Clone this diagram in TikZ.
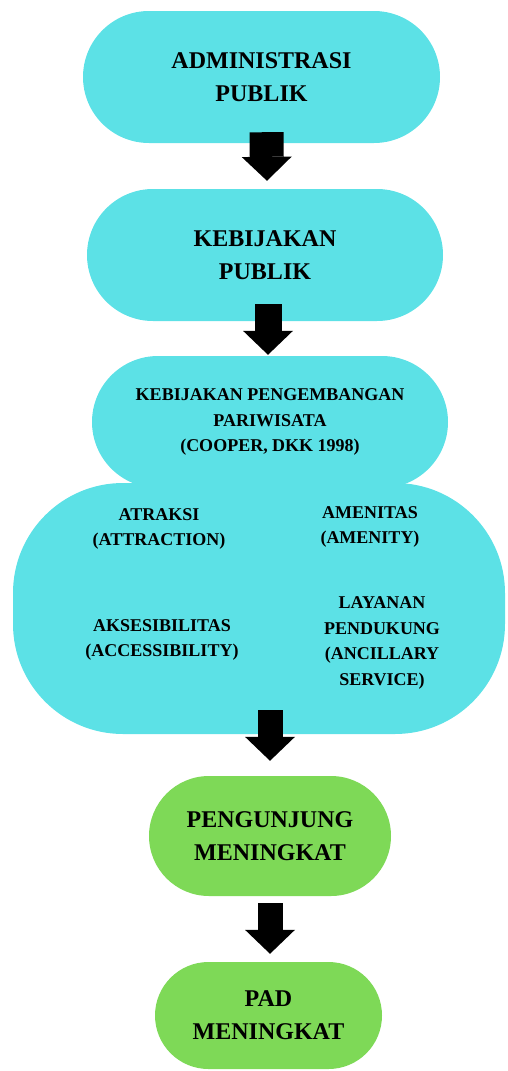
\documentclass[tikz,border=0pt]{standalone}
\usepackage{fontspec}
\setmainfont{Liberation Serif}
\usepackage{xcolor}
\usepackage{tikz}
\usetikzlibrary{shapes.misc,arrows.meta}
\definecolor{boxcyan}{HTML}{5CE1E6}
\definecolor{boxgreen}{HTML}{7ED957}

\begin{document}
\begin{tikzpicture}[x=1pt,y=-1pt]
      \tikzstyle{pill}=[rounded rectangle,fill=boxcyan,inner sep=0pt,align=center,font=\bfseries\fontsize{24}{33}\selectfont]
      \tikzstyle{small text}=[align=center,inner sep=0pt,font=\bfseries\fontsize{18}{25.5}\selectfont]
      \tikzstyle{flow}=[line width=27pt,-{Triangle[width=50pt,length=24pt,line width=0pt]}]
      \useasboundingbox (0,0) rectangle (507,1071);
      
      % Cyan boxes
      \node[pill,minimum width=357pt,minimum height=132pt] (B-1) at (261.5,77) {ADMINISTRASI\\PUBLIK};
      \node[pill,minimum width=356pt,minimum height=132pt] (B-2) at (265,255) {KEBIJAKAN\\PUBLIK};
      \node[pill,minimum width=356pt,minimum height=132pt,font=\bfseries\fontsize{18}{25.5}\selectfont] (B-3) at (270,422) {KEBIJAKAN PENGEMBANGAN\\PARIWISATA\\(COOPER, DKK 1998)};
      \node[rectangle,fill=boxcyan,rounded corners=110pt,minimum width=492pt,minimum height=251pt] (B-4) at (259,608.5) {};
      
      % Components inside the big box
      \node[small text] (C-1) at (159,529) {ATRAKSI\\(ATTRACTION)};
      \node[small text] (C-2) at (370,527) {AMENITAS\\(AMENITY)};
      \node[small text] (C-3) at (162,640) {AKSESIBILITAS\\(ACCESSIBILITY)};
      \node[small text] (C-4) at (382,643) {LAYANAN\\PENDUKUNG\\(ANCILLARY\\SERVICE)};
      
      % Green boxes
      \node[pill,fill=boxgreen,minimum width=242pt,minimum height=120pt] (G-1) at (270,836) {PENGUNJUNG\\MENINGKAT};
      \node[pill,fill=boxgreen,minimum width=227pt,minimum height=107pt] (G-2) at (268.5,1015.5) {PAD\\MENINGKAT};
      
      % Arrows
      \draw[flow,line width=34pt] ([xshift=5pt,yshift=11pt]B-1.south) -- ([xshift=2pt,yshift=8pt]B-2.north);
      \draw[flow] ([xshift=3pt,yshift=17pt]B-2.south) -- ([xshift=-2pt,yshift=1pt]B-3.north);
      \draw[flow,line width=25pt] ([xshift=11pt,yshift=24pt]B-4.south) -- ([yshift=15pt]G-1.north);
      \draw[flow,line width=25pt] ([yshift=-7pt]G-1.south) -- ([xshift=1.5pt,yshift=8pt]G-2.north);
\end{tikzpicture}
\end{document}
